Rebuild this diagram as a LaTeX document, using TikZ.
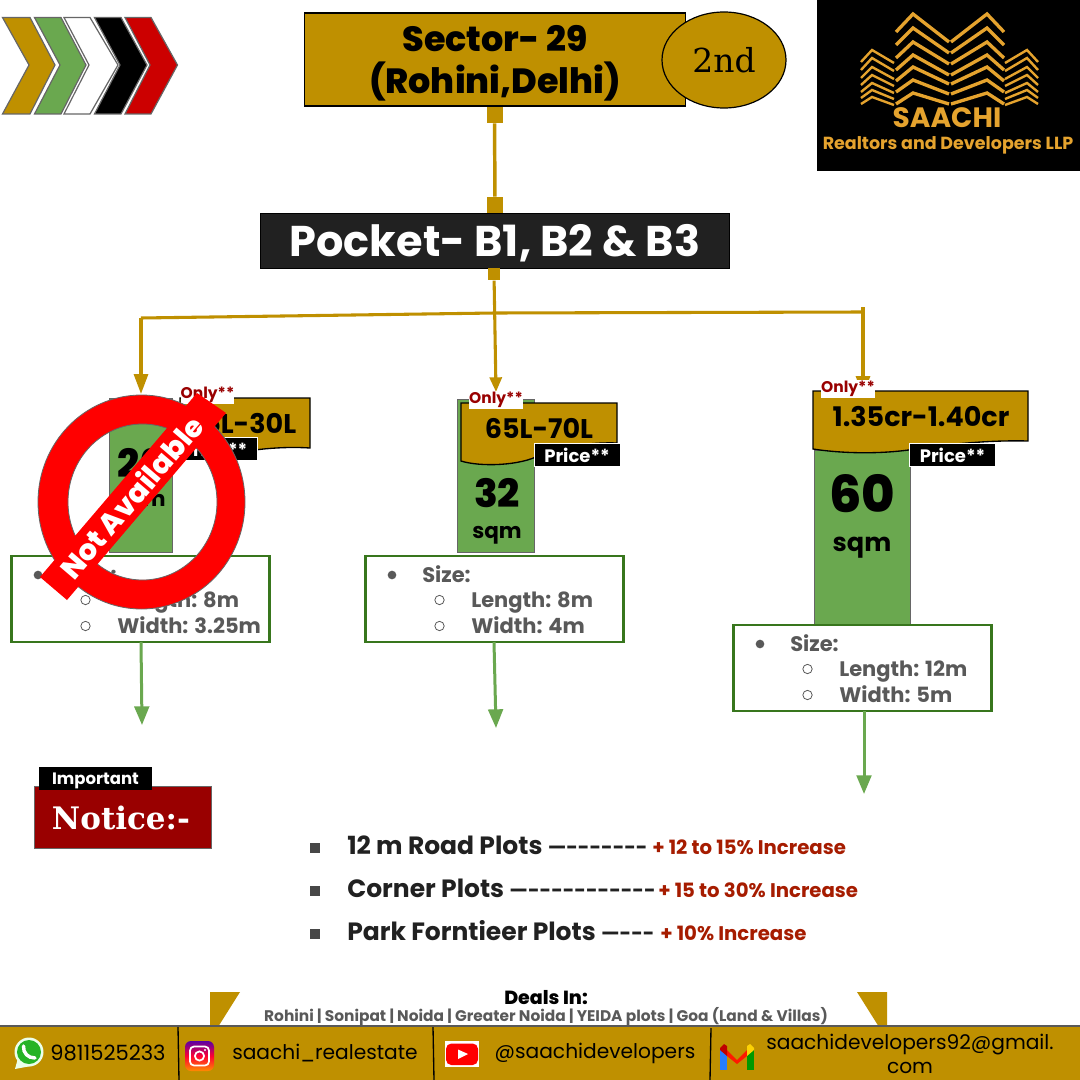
\documentclass[tikz,border=0pt]{standalone}
\usepackage{fontspec}
\setmainfont{Poppins}
\newfontfamily\serifb{DejaVu Serif}
\newfontfamily\xb{Poppins ExtraBold}
\usetikzlibrary{arrows.meta,shapes.geometric}
\newcommand{\fpx}[1]{\fontsize{\the\dimexpr#1pt*3/4\relax}{\the\dimexpr#1pt*9/10\relax}\selectfont}
\definecolor{gold}{HTML}{BF9000}
\definecolor{leaf}{HTML}{6AA84F}
\definecolor{darkleaf}{HTML}{38761D}
\definecolor{slate}{HTML}{595959}
\definecolor{edge}{HTML}{666666}
\definecolor{wine}{HTML}{990000}
\definecolor{rust}{HTML}{A61C00}
\definecolor{logo}{HTML}{E5A32E}
\definecolor{ink}{HTML}{212121}
\tikzset{
  box/.style 2 args={rectangle,inner sep=0pt,outer sep=0pt,minimum width=#1*0.75pt,minimum height=#2*0.75pt},
  chev/.style={draw=edge,line width=0.9pt,line join=miter},
  goldline/.style={draw=gold,line width=2.6pt},
  greenline/.style={draw=leaf,line width=2.25pt,-{Triangle[width=11pt,length=14pt]}},
  flag/.style={fill=gold,draw=black,line width=1pt},
  onlytag/.style={fill=white,text=wine,font=\bfseries\fpx{15.5},inner sep=0pt,minimum width=39pt,minimum height=13.5pt},
  pricetag/.style={box={86}{23},fill=black,draw=white,line width=0.7pt,text=white,font=\bfseries\fpx{18}},
  sizebox/.style={box={258}{86},draw=darkleaf,fill=white,line width=1.6pt},
  sizetext/.style={anchor=west,text=slate,font=\bfseries\fpx{21},inner sep=0pt},
  dotfill/.style={circle,fill=slate,minimum size=6.5pt,inner sep=0pt},
  dothollow/.style={circle,draw=slate,line width=0.6pt,minimum size=7pt,inner sep=0pt},
  sqb/.style={rectangle,fill=#1,minimum size=8pt,inner sep=0pt},
  foot/.style={text=black,font=\fpx{20.2}},
  listtext/.style={anchor=west,text=ink,font=\bfseries\fpx{25},inner sep=0pt},
  redtext/.style={anchor=west,text=rust,font=\bfseries\fpx{19.7},inner sep=0pt},
  logoline/.style={draw=logo,line width=2.5pt,line join=miter},
  pricefont/.style={font=\bfseries\fpx{27}},
}
\newcommand{\dsh}[1]{{\fpx{20}#1}}
\begin{document}
\begin{tikzpicture}[x=0.75pt,y=-0.75pt]
\useasboundingbox (0,0) rectangle (1080,1080);
\fill[white] (0,0) rectangle (1080,1080);

% chevrons
\fill[gold,chev] (2.5,17.5)--(30,17.5)--(55,65)--(30,114)--(2.5,114)--(29,65)--cycle;
\fill[leaf,chev] (34.5,17.5)--(61,17.5)--(86,65)--(61,114)--(34.5,114)--(60,65)--cycle;
\fill[white,chev] (64,17.5)--(90,17.5)--(118,65)--(90,114)--(64,114)--(89,65)--cycle;
\fill[black,chev] (94.5,17.5)--(121,17.5)--(147,65)--(121,114)--(94.5,114)--(120,65)--cycle;
\fill[red!80!black,chev] (125,17.5)--(151,17.5)--(177.5,65)--(151,114)--(125,114)--(150,65)--cycle;

% logo
\fill[black] (817,0) rectangle (1080,171);
\foreach \p/\dl/\dr in {14/18/28,28/17/25,42/16/22,55/15/20,67/14/17,80/12/14,93/11/11}{
  \draw[logoline] (896,\p+\dl) -- (913,\p) -- (949,\p+\dr);
  \draw[logoline] (1004,\p+\dl) -- (987,\p) -- (951,\p+\dr);
}
\foreach \p/\d in {50/12,58/12,67/11,75/10,83/9,90/8,97/7}{
  \draw[logoline,line width=1.8pt] (861,\p+\d) -- (872,\p) -- (894,\p+\d+1);
  \draw[logoline,line width=1.8pt] (1038,\p+\d) -- (1027,\p) -- (1005,\p+\d+1);
}
\node[text=logo,font=\bfseries\fpx{28}] (saachi) at (947,118) {SAACHI};
\node[text=logo,font=\bfseries\fpx{17.5}] (realtors) at (948,145) {Realtors and Developers LLP};

% header
\node[box={381}{93},fill=gold,draw=black,line width=0.9pt] (sector) at (495,59.5) {};
\node[ellipse,fill=gold,draw=black,line width=0.9pt,minimum width=93pt,minimum height=72pt,inner sep=0pt] (second) at (724,60) {};
\node[font=\serifb\fpx{33}] (secondt) at (724,60) {2nd};
\node[align=center,font=\xb\fpx{35},text=black] (sectort) at (495,63.5) {Sector- 29\\(Rohini,Delhi)};

% pocket
\node[box={469}{55},fill=ink,draw=black,line width=0.4pt] (pocket) at (494.5,240.5) {};
\node[text=white,font=\bfseries\fpx{43}] (pockett) at (495,243) {Pocket- B1, B2 \& B3};
\node[sqb=gold,minimum size=12pt] (sqa) at (494.5,115) {};
\node[sqb=gold,minimum size=12pt] (sqd) at (495,205) {};
\node[sqb=gold,minimum size=9.5pt] (sqc) at (494,274) {};
\draw[goldline] (sqa) -- (sqd);

% branches
\coordinate (jc) at (495,313);
\coordinate (jl) at (141,318);
\coordinate (jr) at (863,312);
\coordinate (jrt) at (863,307);
\coordinate (tl) at (141,394);
\coordinate (tr) at (863,396);
\coordinate (tm) at (496,392);
\draw[goldline,line width=2.3pt] (jl) -- (jc) -- (jr);
\draw[goldline,line width=2.3pt,-{Triangle[width=9pt,length=11pt]}] (sqc) -- (tm);
\draw[goldline,line width=2.3pt,-{Triangle[width=10.5pt,length=15pt]}] (jl) -- (tl);
\draw[goldline,line width=2.3pt,-{Triangle[width=10.5pt,length=15pt]}] (jrt) -- (tr);

% left plot
\node[box={63}{154},fill=leaf,draw=edge,line width=0.9pt] (plotl) at (141,475.5) {};
\fill[flag] (180,398) -- (310,398) -- (310,448) .. controls (280,446) and (250,450) .. (230,454) .. controls (215,456) and (195,454) .. (180,450) -- cycle;
\node[pricefont] (pricel) at (242,423) {25L-30L};
\node[pricetag,minimum width=64.5pt,minimum height=17pt] (tagl) at (214.5,449) {Price**};
\node[onlytag] (onlyl) at (207.5,395) {Only**};
\node[font=\xb\fpx{39}] (numl) at (141,463) {26};
\node[font=\bfseries\fpx{21.5}] (sqml) at (141,503) {sqm};

% middle plot
\node[box={77}{153},fill=leaf,draw=edge,line width=0.9pt] (plotm) at (496,476) {};
\fill[flag] (461,403) -- (617,403) -- (617,443) .. controls (590,442) and (560,447) .. (540,455) .. controls (520,466) and (480,467) .. (461,461) -- cycle;
\node[pricefont] (pricem) at (539,428) {65L-70L};
\node[pricetag,minimum width=64.5pt,minimum height=17pt] (tagm) at (577,455) {Price**};
\node[onlytag] (onlym) at (496,400) {Only**};
\node[font=\xb\fpx{39}] (numm) at (497,493) {32};
\node[font=\bfseries\fpx{21.5}] (sqmm) at (497,535) {sqm};

% right plot
\node[box={96}{175},fill=leaf,draw=edge,line width=0.9pt] (plotr) at (862.5,538) {};
\fill[flag] (813,391) -- (1028,391) -- (1028,441) .. controls (990,440) and (950,444) .. (915,449) .. controls (885,454) and (845,454) .. (813,449) -- cycle;
\node[pricefont] (pricer) at (921,417) {1.35cr-1.40cr};
\node[pricetag,minimum width=64.5pt,minimum height=17pt] (tagr) at (952.5,455) {Price**};
\node[onlytag] (onlyr) at (848,388.5) {Only**};
\node[font=\xb\fpx{51}] (numr) at (862,494) {60};
\node[font=\bfseries\fpx{25.5}] (sqmr) at (862,548) {sqm};

% size boxes
\foreach \nm/\dx/\dy/\l/\w in {a/-354/0/8m/3.25m,b/0/0/8m/4m,c/368/69/12m/5m}{
  \node[sizebox] (size\nm) at (494.5+\dx,599+\dy) {};
  \node[dotfill] (d1\nm) at (392+\dx,575+\dy) {};
  \node[sizetext] (s1\nm) at (422+\dx,574+\dy) {Size:};
  \node[dothollow] (d2\nm) at (439.5+\dx,600+\dy) {};
  \node[sizetext] (s2\nm) at (471+\dx,602.5+\dy) {Length: \l};
  \node[dothollow] (d3\nm) at (439.5+\dx,626+\dy) {};
  \node[sizetext] (s3\nm) at (471+\dx,625.5+\dy) {Width: \w};
}
\coordinate (ga) at (142,725);
\coordinate (gb) at (496,728);
\coordinate (gc) at (864,794);
\draw[greenline] (sizea.south -| 141,643) -- (ga);
\draw[greenline] (sizeb.south -| 494,643) -- (gb);
\draw[greenline] (sizec.south -| 864,713) -- (gc);

% not available
\fill[red,draw=edge,line width=0.6pt,even odd rule] (141.5,502) ellipse [x radius=103.5,y radius=107] (142.5,502) ellipse [x radius=74.5,y radius=78];
\fill[red] (197,393) -- (226,413) -- (67,600) -- (40,577) -- cycle;
\node[rotate=49.5,text=white,font=\xb\fpx{29}] (na) at (131,497) {Not Available};

% notice
\node[box={177}{62},fill=wine,draw=edge,line width=0.7pt] (notice) at (122.5,817) {};
\node[text=white,font=\serifb\bfseries\fpx{31}] (noticet) at (121,818) {Notice:-};
\node[box={113}{23},fill=black] (important) at (95.5,778.5) {};
\node[text=white,font=\bfseries\fpx{16.5}] (importantt) at (95.5,780.5) {Important};

% list
\foreach \yy in {848,891,934}{ \fill[slate!80!black] (310,\yy-5) rectangle (320,\yy+5); }
\node[listtext] (l1) at (347,845) {12 m Road Plots \dsh{—-{}-{}-{}-{}-{}-{}-}};
\node[redtext] (r1) at (652,847) {+ 12 to 15\% Increase};
\node[listtext] (l2) at (347,888) {Corner Plots \dsh{—-{}-{}-{}-{}-{}-{}-{}-{}-{}-{}-}};
\node[redtext] (r2) at (658,890) {+ 15 to 30\% Increase};
\node[listtext] (l3) at (347,931) {Park Forntieer Plots \dsh{—-{}-{}-}};
\node[redtext] (r3) at (660,933) {+ 10\% Increase};

% footer
\fill[gold] (210,992) -- (240,992) -- (218,1027) -- (210,1027) -- cycle;
\fill[gold] (857,992) -- (887,992) -- (887,1027) -- (879,1027) -- cycle;
\node[font=\xb\fpx{19}] (deals) at (546,998) {Deals In:};
\node[text=slate,font=\bfseries\fpx{15.4}] (dealt) at (546,1017) {Rohini | Sonipat | Noida | Greater Noida | YEIDA plots | Goa (Land \& Villas)};
\fill[gold] (0,1026) rectangle (1080,1080);
\draw[slate,line width=0.9pt] (0,1026) -- (1080,1026);
\draw[black,line width=1pt] (178,1027) -- (179,1080) (433,1027) -- (434,1080) (711,1028) -- (710,1080);

% whatsapp
\fill[white!92!green] (15,1069) -- (18,1058) -- (31,1066) -- cycle;
\fill[white!92!green] (29,1052) circle (14.5);
\fill[green!65!black!85!white] (29,1052) circle (12);
\draw[white,line width=2.6pt,line cap=round] (23.5,1046) .. controls (23,1053) and (28,1058) .. (35,1058);
% instagram
\shade[rounded corners=4.5pt,top color=violet!70!blue,bottom color=orange!90!yellow,middle color=red!80!magenta] (185,1041) rectangle (214,1071);
\draw[white,line width=1.3pt,rounded corners=3pt] (190,1046.5) rectangle (209,1065.5);
\draw[white,line width=1.3pt] (199.5,1056) circle (4.6);
\fill[white] (205,1050) circle (1.2);
% youtube
\fill[white] (444.5,1041) rectangle (479,1067);
\fill[red,rounded corners=4pt] (446,1043.5) rectangle (478,1065);
\fill[white] (458,1049.5) -- (468,1054) -- (458,1059) -- cycle;
% gmail
\fill[blue!60!cyan!85!white] (720,1048) rectangle (727,1070);
\fill[green!60!black] (747,1048) rectangle (754,1070);
\fill[red!80!orange] (727,1050) -- (737,1060) -- (747,1050) -- (747,1056) -- (737,1064) -- (727,1056) -- cycle;
\fill[red!75!black] (720,1048) -- (724,1044) -- (727,1046) -- (727,1056) -- (720,1050) -- cycle;
\fill[yellow!70!orange] (754,1048) -- (750,1044) -- (747,1046) -- (747,1056) -- (754,1050) -- cycle;

\node[foot,font=\fpx{21}] (phone) at (108,1053) {9811525233};
\node[foot] (insta) at (325,1053) {saachi\_realestate};
\node[foot] (yt) at (595,1053) {@saachidevelopers};
\node[foot,align=center] (mail) at (910,1054) {saachidevelopers92@gmail.\\com};
\end{tikzpicture}
\end{document}
